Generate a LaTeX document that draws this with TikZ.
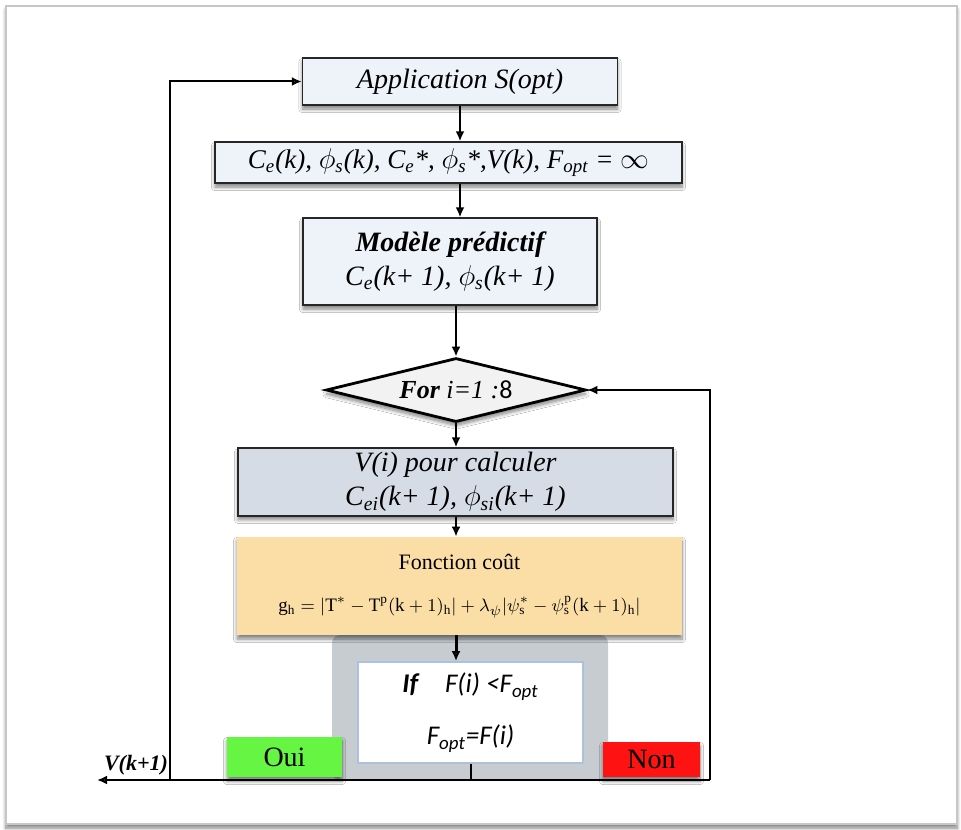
\documentclass[tikz,border=0pt]{standalone}
\usepackage{amsmath}
\usepackage{fontspec}
\setmainfont{Liberation Serif}
\newfontfamily\calib{Carlito}
\usetikzlibrary{shapes.geometric,arrows.meta,shadows.blur}
\definecolor{boxblue}{RGB}{238,243,250}
\definecolor{boxgrey}{RGB}{214,220,229}
\definecolor{costfill}{RGB}{251,222,166}
\definecolor{panelgrey}{RGB}{199,204,209}
\definecolor{ifline}{RGB}{172,192,226}
\definecolor{ouigreen}{RGB}{102,245,66}
\definecolor{nonred}{RGB}{255,18,18}
\begin{document}
\begin{tikzpicture}[x=.5pt,y=-.5pt,
  every node/.style={font=\fontsize{14}{17}\selectfont\itshape,inner sep=2pt},
  soft/.style={blur shadow={shadow blur steps=8,shadow xshift=0pt,shadow yshift=-2pt,shadow opacity=50}},
  blk/.style={rectangle,draw=black!85,line width=.7pt,fill=boxblue,soft},
  arr/.style={-{Latex[length=5pt,width=4.5pt]},line width=1pt},
  loopline/.style={line width=1.3pt}]
  \useasboundingbox (0,0) rectangle (961,829);
  \draw[gray!45,line width=.8pt,fill=white,soft] (6,6) rectangle (957,824);

  \node[blk,minimum width=157.5pt,minimum height=23.5pt] (app) at (460,81.5) {Application S(opt)};
  \node[blk,minimum width=233.5pt,minimum height=20.5pt,font=\fontsize{13.5}{16}\selectfont\itshape] (init) at (448.5,162.5)
    {C\textsubscript{e}(k), $\phi$\textsubscript{s}(k), C\textsubscript{e}*, $\phi$\textsubscript{s}*,V(k), F\textsubscript{opt} = $\infty$};
  \node[blk,minimum width=147pt,minimum height=43.5pt,align=center] (model) at (450,261.5)
    {\textbf{Modèle prédictif}\\C\textsubscript{e}(k+ 1), $\phi$\textsubscript{s}(k+ 1)};
  \node[diamond,draw=black,line width=1.4pt,fill=gray!10,soft,aspect=4,inner sep=0pt,
    minimum width=130pt,minimum height=32pt,font=\fontsize{13}{15}\selectfont\itshape] (dia) at (456,390)
    {\textbf{For} i=1 :{\calib\upshape 8}};
  \node[blk,fill=boxgrey,line width=1pt,minimum width=217.5pt,minimum height=30pt,align=center] (vi) at (455.5,482)
    {V(i) pour calculer\\C\textsubscript{ei}(k+ 1), $\phi$\textsubscript{si}(k+ 1)};
  \node[rectangle,rounded corners=4pt,fill=panelgrey,minimum width=138pt,minimum height=72.5pt] (pnl) at (470,707.5) {};
  \node[rectangle,fill=costfill,soft,minimum width=222.5pt,minimum height=49pt,
    align=center,font=\fontsize{11}{13}\selectfont\upshape] (cost) at (459.5,586)
    {Fonction coût\\[8pt]
     \fontsize{9.5}{11}\selectfont$\mathrm{g_h} = \lvert \mathrm{T^*} - \mathrm{T^p}(\mathrm{k}+1)_\mathrm{h}\rvert
       + \lambda_\psi \lvert \psi_\mathrm{s}^* - \psi_\mathrm{s}^\mathrm{p}(\mathrm{k}+1)_\mathrm{h}\rvert$};
  \node[rectangle,draw=ifline,line width=.9pt,fill=white,minimum width=112.5pt,minimum height=50.5pt,align=center,
    font=\calib\fontsize{13.5}{15}\selectfont\itshape] (cond) at (470.5,712.5)
    {\textbf{If}\quad F(i) <F\textsubscript{opt}\\[11pt]F\textsubscript{opt}=F(i)};
  \node[rectangle,fill=ouigreen,soft,minimum width=57.5pt,minimum height=20pt,font=\fontsize{14}{16}\selectfont\upshape] (oui) at (284.5,757) {Oui};
  \node[rectangle,fill=nonred,soft,minimum width=48.5pt,minimum height=17.5pt,font=\fontsize{14}{16}\selectfont\upshape] (non) at (651.5,759.5) {Non};
  \node[font=\fontsize{11}{13}\selectfont\bfseries\itshape] (vk) at (136,765) {V(k+1)};

  \coordinate (br) at (710,780);
  \coordinate (bl) at (170,780);
  \coordinate (vout) at (97,780);

  \draw[arr] (app.south) -- (app.south |- init.north);
  \draw[arr] (init.south -| app.south) -- (app.south |- model.north);
  \draw[arr] (model.south -| dia.north) -- (dia.north);
  \draw[arr] (dia.south) -- (dia.south |- vi.north);
  \draw[arr] (vi.south -| dia.south) -- (dia.south |- cost.north);
  \draw[arr,line width=1.5pt] (cost.south -| dia.south) -- (dia.south |- cond.north);
  \draw[line width=1pt] (cond.south) -- (cond.south |- br);
  \draw[loopline,arr] (br) -- (vout);
  \draw[loopline,arr] (br) |- (dia.east);
  \draw[loopline,arr] (bl) |- (app.west);
\end{tikzpicture}
\end{document}
